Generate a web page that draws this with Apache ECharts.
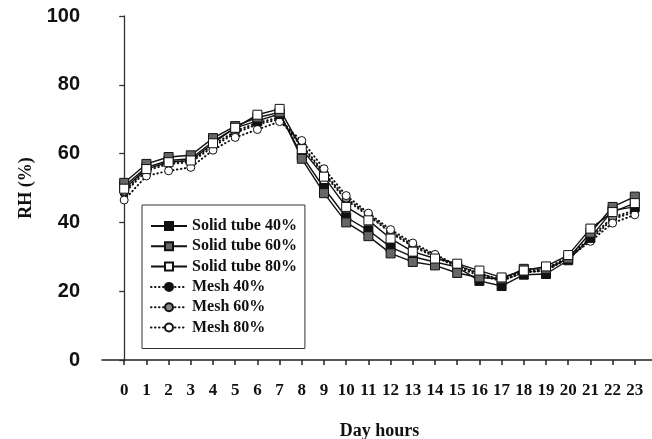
<!DOCTYPE html>
<html>
<head>
<meta charset="utf-8">
<script src="https://cdn.jsdelivr.net/npm/echarts@6/dist/echarts.min.js"></script>
<style>
  html, body { margin: 0; padding: 0; background: #fff; }
  #chart { width: 652px; height: 439px; }
</style>
</head>
<body>
<div id="chart"></div>
<script>
// Hour of day
const hours = [0, 1, 2, 3, 4, 5, 6, 7, 8, 9, 10, 11, 12, 13, 14, 15, 16, 17, 18, 19, 20, 21, 22, 23];

// Relative humidity (%) per hour
const solidTube40 = [50.5, 56, 58, 58.5, 63.5, 67.5, 69.5, 71.5, 59.5, 50, 41.5, 37.7, 32.8, 30, 28.5, 27, 23, 21.5, 24.8, 25, 29, 35.5, 43.5, 44.5];
const solidTube60 = [51.5, 57, 59, 59.5, 64.5, 68, 70.5, 72, 58.5, 48.5, 40, 36, 31, 28.5, 27.5, 25.3, 24, 23.5, 26.5, 26.5, 29.5, 37, 44.5, 47.5];
const solidTube80 = [49.8, 55.5, 57.5, 58, 63, 67.5, 71.3, 73, 61.3, 53.3, 44.5, 40.6, 35.3, 31.5, 29.5, 28, 26, 24, 26, 27.2, 30.5, 38.2, 43, 45.6];
const mesh40 = [48.5, 55, 57, 57.5, 62, 66, 68.5, 70, 62, 54, 46.5, 42, 37, 33, 30, 27, 24.5, 23, 25.5, 26, 29.5, 35, 41, 43];
const mesh60 = [49, 55.5, 57.5, 58, 62.5, 66.5, 69, 70.5, 62.5, 54.5, 47, 42.3, 37.3, 33.5, 30.3, 27.5, 25, 23.5, 25.7, 26.5, 30, 35.5, 41.5, 43.5];
const mesh80 = [46.5, 53.5, 55, 56, 61, 64.7, 67, 69.3, 63.8, 55.6, 47.8, 42.7, 37.9, 34, 30.7, 27.5, 25.2, 23, 25.5, 26, 29.7, 34.5, 39.8, 42.2];

// Axis ticks
const yTicks = [0, 20, 40, 60, 80, 100];

const serifFont = '"Liberation Serif", "Times New Roman", serif';
const sansFont = '"Liberation Sans", Arial, sans-serif';

function pairs(values) {
  return hours.map((h, i) => [h, values[i]]);
}

function solidSeries(name, values, fill, z) {
  return {
    name: name,
    type: 'line',
    data: pairs(values),
    symbol: 'rect',
    symbolSize: 9,
    z: z,
    lineStyle: { color: '#111', width: 1.4, type: 'solid' },
    itemStyle: { color: fill, borderColor: '#111', borderWidth: 1 },
    emphasis: { disabled: true },
    animation: false
  };
}

function meshSeries(name, values, fill, z) {
  return {
    name: name,
    type: 'line',
    data: pairs(values),
    symbol: 'circle',
    symbolSize: 8,
    z: z,
    lineStyle: { color: '#111', width: 2, type: [0.5, 3.5], cap: 'round' },
    itemStyle: { color: fill, borderColor: '#111', borderWidth: 1 },
    emphasis: { disabled: true },
    animation: false
  };
}

const chart = echarts.init(document.getElementById('chart'), null, { renderer: 'canvas' });

chart.setOption({
  backgroundColor: '#fff',
  animation: false,
  grid: { left: 102, top: 16, width: 555, height: 344, outerBoundsMode: 'none', containLabel: false },
  legend: {
    orient: 'vertical',
    left: 142,
    top: 205,
    width: 164,
    padding: [13, 8, 13, 8],
    borderColor: '#333',
    borderWidth: 1,
    backgroundColor: '#fff',
    itemWidth: 36,
    itemHeight: 10,
    itemGap: 4.3,
    data: ['Solid tube 40%', 'Solid tube 60%', 'Solid tube 80%', 'Mesh 40%', 'Mesh 60%', 'Mesh 80%'],
    textStyle: { fontFamily: serifFont, fontWeight: 'bold', fontSize: 16, color: '#111', lineHeight: 16 },
    selectedMode: false
  },
  xAxis: {
    type: 'value',
    min: -1,
    max: 24,
    interval: 1,
    name: 'Day hours',
    nameLocation: 'middle',
    nameGap: 62,
    nameTextStyle: { fontFamily: serifFont, fontWeight: 'bold', fontSize: 18, color: '#111' },
    axisLine: { show: true, onZero: false, lineStyle: { color: '#222', width: 1.5 } },
    axisTick: { show: true, length: 5, customValues: hours, lineStyle: { color: '#222', width: 1.5 } },
    axisLabel: {
      customValues: hours,
      margin: 22,
      fontFamily: serifFont,
      fontWeight: 'bold',
      fontSize: 17,
      color: '#111'
    },
    splitLine: { show: false }
  },
  yAxis: {
    type: 'value',
    min: 0,
    max: 100,
    interval: 20,
    name: 'RH (%)',
    nameLocation: 'middle',
    nameGap: 64,
    nameTextStyle: { fontFamily: serifFont, fontWeight: 'bold', fontSize: 18, color: '#111' },
    axisLine: { show: true, lineStyle: { color: '#333', width: 1.3 } },
    axisTick: { show: true, length: 5, customValues: yTicks, lineStyle: { color: '#333', width: 1.3 } },
    axisLabel: {
      customValues: yTicks,
      margin: 22,
      fontFamily: sansFont,
      fontWeight: 'bold',
      fontSize: 20,
      color: '#111'
    },
    splitLine: { show: false }
  },
  series: [
    meshSeries('Mesh 40%', mesh40, '#111', 2),
    meshSeries('Mesh 60%', mesh60, '#8a8a8a', 2),
    meshSeries('Mesh 80%', mesh80, '#fff', 2),
    solidSeries('Solid tube 40%', solidTube40, '#111', 3),
    solidSeries('Solid tube 60%', solidTube60, '#666', 3),
    solidSeries('Solid tube 80%', solidTube80, '#fff', 3)
  ]
});
</script>
</body>
</html>
